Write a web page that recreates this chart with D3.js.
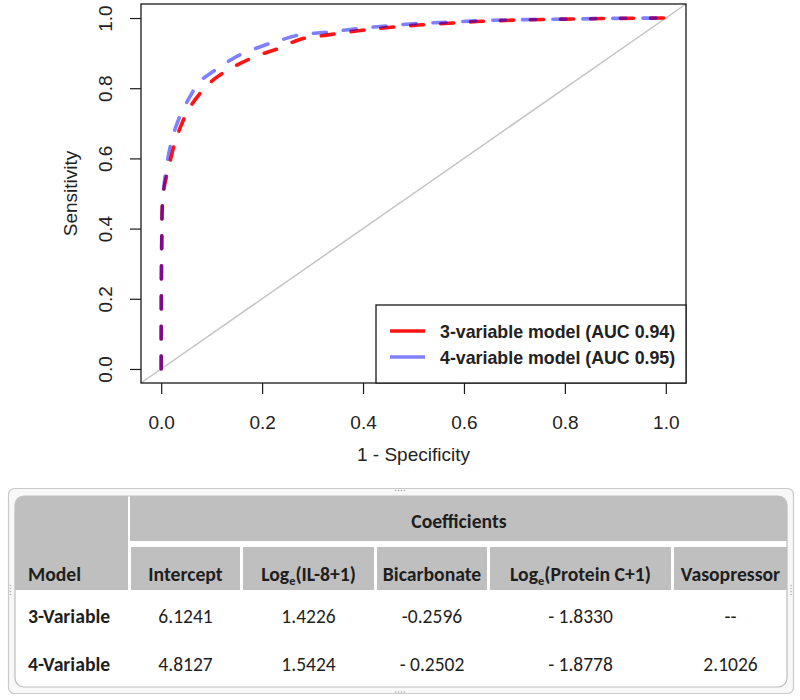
<!DOCTYPE html>
<html>
<head>
<meta charset="utf-8">
<script src="https://cdn.jsdelivr.net/npm/d3@7"></script>
<style>
  html, body { margin: 0; padding: 0; background: #fff; }
  svg { display: block; }
</style>
</head>
<body>
<svg id="chart" width="800" height="700"></svg>
<script>
// ---------------- DATA ----------------
const xTicks = [0, 0.2, 0.4, 0.6, 0.8, 1.0];
const yTicks = [0, 0.2, 0.4, 0.6, 0.8, 1.0];
const xTickLabels = ["0.0", "0.2", "0.4", "0.6", "0.8", "1.0"];
const yTickLabels = ["0.0", "0.2", "0.4", "0.6", "0.8", "1.0"];

// 3-variable model ROC (1 - specificity, sensitivity)
const fpr3 = [0, 0.001, 0.004, 0.0145, 0.031, 0.054, 0.077, 0.107, 0.15, 0.203, 0.232, 0.275, 0.331, 0.391, 0.45, 0.51, 0.569, 0.625, 0.7, 0.8, 0.9, 1.0];
const tpr3 = [0, 0.35, 0.5, 0.572, 0.662, 0.738, 0.785, 0.828, 0.866, 0.899, 0.913, 0.939, 0.952, 0.964, 0.973, 0.98, 0.985, 0.99, 0.994, 0.997, 0.999, 1.0];
// 4-variable model ROC
const fpr4 = [0, 0.001, 0.004, 0.018, 0.034, 0.057, 0.077, 0.107, 0.156, 0.206, 0.232, 0.275, 0.331, 0.391, 0.45, 0.51, 0.569, 0.625, 0.7, 0.8, 0.9, 1.0];
const tpr4 = [0, 0.35, 0.5, 0.634, 0.709, 0.776, 0.819, 0.852, 0.895, 0.923, 0.935, 0.952, 0.96, 0.97, 0.978, 0.985, 0.988, 0.992, 0.995, 0.997, 0.999, 1.0];

const legendLabels = ["3-variable model (AUC 0.94)", "4-variable model (AUC 0.95)"];
const seriesColors = ["rgba(255,0,0,0.92)", "rgba(0,0,255,0.5)"];
const xTitle = "1 - Specificity";
const yTitle = "Sensitivity";

// Table
const tableGroupTitle = "Coefficients";
const modelHeader = "Model";
const coefHeaders = ["Intercept", "Log|e|(IL-8+1)", "Bicarbonate", "Log|e|(Protein C+1)", "Vasopressor"];
const modelLabels = ["3-Variable", "4-Variable"];
const coef3var = ["6.1241", "1.4226", "-0.2596", "- 1.8330", "--"];
const coef4var = ["4.8127", "1.5424", "- 0.2502", "- 1.8778", "2.1026"];

// ---------------- CHART ----------------
const svg = d3.select("#chart");
const P = { left: 141, right: 686, top: 4, bottom: 383 };
const x = d3.scaleLinear().domain([-0.04, 1.04]).range([P.left, P.right]);
const y = d3.scaleLinear().domain([-0.04, 1.04]).range([P.bottom, P.top]);
const axisFont = "'Liberation Sans', Arial, sans-serif";
const ink = "#1a1a1a";

// diagonal reference
svg.append("line")
  .attr("x1", x(-0.04)).attr("y1", y(-0.04))
  .attr("x2", x(1.04)).attr("y2", y(1.04))
  .attr("stroke", "#c4c4c4").attr("stroke-width", 1.5);

// ROC curves
const line = d3.line().x(d => x(d[0])).y(d => y(d[1])).curve(d3.curveCatmullRom.alpha(0.5));
const series = [d3.zip(fpr3, tpr3), d3.zip(fpr4, tpr4)];
svg.selectAll("path.roc").data(series).join("path")
  .attr("class", "roc")
  .attr("d", line)
  .attr("fill", "none")
  .attr("stroke", (d, i) => seriesColors[i])
  .attr("stroke-width", 3.6)
  .attr("stroke-linecap", "round")
  .attr("stroke-dasharray", "13,17");

// axes
const xAxis = d3.axisBottom(x).tickValues(xTicks).tickSize(11).tickFormat((d, i) => xTickLabels[i]);
const gx = svg.append("g").attr("transform", `translate(0,${P.bottom})`).call(xAxis);
gx.select(".domain").remove();
gx.selectAll(".tick line").attr("stroke", ink).attr("stroke-width", 1.2);
gx.selectAll(".tick text").attr("y", 46).attr("dy", null)
  .attr("font-family", axisFont).attr("font-size", 19).attr("fill", "#222");

const yAxis = d3.axisLeft(y).tickValues(yTicks).tickSize(11).tickFormat((d, i) => yTickLabels[i]);
const gy = svg.append("g").attr("transform", `translate(${P.left},0)`).call(yAxis);
gy.select(".domain").remove();
gy.selectAll(".tick line").attr("stroke", ink).attr("stroke-width", 1.2);
gy.selectAll(".tick text")
  .attr("x", null).attr("dy", null)
  .attr("text-anchor", "middle")
  .attr("transform", "translate(-29,0) rotate(-90)")
  .attr("font-family", axisFont).attr("font-size", 19).attr("fill", "#222");

// plot box
svg.append("rect")
  .attr("x", P.left).attr("y", P.top)
  .attr("width", P.right - P.left).attr("height", P.bottom - P.top)
  .attr("fill", "none").attr("stroke", ink).attr("stroke-width", 1.3);

// axis titles
svg.append("text").attr("x", (P.left + P.right) / 2).attr("y", 461)
  .attr("text-anchor", "middle").attr("font-family", axisFont).attr("font-size", 19).attr("fill", "#222")
  .text(xTitle);
svg.append("text")
  .attr("transform", `translate(77,${(P.top + P.bottom) / 2}) rotate(-90)`)
  .attr("text-anchor", "middle").attr("font-family", axisFont).attr("font-size", 19).attr("fill", "#222")
  .text(yTitle);

// legend
const lg = svg.append("g");
lg.append("rect").attr("x", 376).attr("y", 305).attr("width", P.right - 376).attr("height", P.bottom - 305)
  .attr("fill", "#fff").attr("stroke", ink).attr("stroke-width", 1.3);
const li = lg.selectAll("g.item").data(legendLabels).join("g").attr("class", "item")
  .attr("transform", (d, i) => `translate(0,${331 + i * 26})`);
li.append("line").attr("x1", 390).attr("x2", 425).attr("y1", 0).attr("y2", 0)
  .attr("stroke", (d, i) => seriesColors[i]).attr("stroke-width", 3.4);
li.append("text").attr("x", 440).attr("y", 6.5)
  .attr("font-family", axisFont).attr("font-weight", "bold").attr("font-size", 17.8).attr("fill", "#222")
  .text(d => d);

// ---------------- TABLE ----------------
const tFont = "Carlito, 'Liberation Sans Narrow', 'Open Sans', sans-serif";
const T = { left: 15, right: 787, top: 496, bottom: 687 };
const colEdges = [131, 243, 377, 490, 674, 787];
const gap = 3;
const bSize = 19.7, rSize = 19.5;

// outer frame
svg.append("rect").attr("x", 8.5).attr("y", 488.5).attr("width", 785).attr("height", 205)
  .attr("rx", 6).attr("fill", "#f8f8f8").attr("stroke", "#c9c9c9").attr("stroke-width", 1.2);
// inner table
svg.append("defs").append("clipPath").attr("id", "tclip")
  .append("rect").attr("x", T.left).attr("y", T.top).attr("width", T.right - T.left).attr("height", T.bottom - T.top).attr("rx", 9);
svg.append("rect").attr("x", T.left).attr("y", T.top).attr("width", T.right - T.left).attr("height", T.bottom - T.top)
  .attr("rx", 9).attr("fill", "#fff").attr("stroke", "#bdbdbd").attr("stroke-width", 1.2);

const tg = svg.append("g").attr("clip-path", "url(#tclip)");
const hdrFill = "#bfbfbf";
tg.append("rect").attr("x", T.left).attr("y", T.top).attr("width", 128 - T.left).attr("height", 590 - T.top).attr("fill", hdrFill);
tg.append("rect").attr("x", colEdges[0] - 1).attr("y", T.top).attr("width", T.right - colEdges[0] + 1).attr("height", 541 - T.top).attr("fill", hdrFill);
const colIdx = d3.range(coefHeaders.length);
tg.selectAll("rect.sub").data(colIdx).join("rect").attr("class", "sub")
  .attr("x", i => colEdges[i])
  .attr("y", 547).attr("width", i => colEdges[i + 1] - colEdges[i] - (i < colIdx.length - 1 ? gap : 0))
  .attr("height", 590 - 547).attr("fill", hdrFill);

const colCenter = i => (colEdges[i] + colEdges[i + 1] - (i < colIdx.length - 1 ? gap : 0)) / 2;
const tInk = "#1e1e1e";

svg.append("text").attr("x", (colEdges[0] + T.right) / 2).attr("y", 528)
  .attr("text-anchor", "middle").attr("font-family", tFont).attr("font-weight", "bold").attr("font-size", bSize).attr("fill", tInk)
  .text(tableGroupTitle);
svg.append("text").attr("x", 28).attr("y", 581)
  .attr("font-family", tFont).attr("font-weight", "bold").attr("font-size", bSize).attr("fill", tInk)
  .text(modelHeader);

const hdr = svg.selectAll("text.hdr").data(coefHeaders).join("text").attr("class", "hdr")
  .attr("x", (d, i) => colCenter(i)).attr("y", 581)
  .attr("text-anchor", "middle").attr("font-family", tFont).attr("font-weight", "bold").attr("font-size", bSize).attr("fill", tInk);
hdr.each(function (d) {
  const parts = d.split("|");
  const t = d3.select(this);
  if (parts.length === 1) { t.text(d); return; }
  t.append("tspan").text(parts[0]);
  t.append("tspan").attr("font-size", 12.5).attr("dy", 4).text(parts[1]);
  t.append("tspan").attr("dy", -4).text(parts[2]);
});

const rows = [coef3var, coef4var];
const rowY = [623, 671];
svg.selectAll("text.rowlab").data(modelLabels).join("text").attr("class", "rowlab")
  .attr("x", 28).attr("y", (d, i) => rowY[i])
  .attr("font-family", tFont).attr("font-weight", "bold").attr("font-size", bSize).attr("fill", tInk)
  .text(d => d);
rows.forEach((vals, r) => {
  svg.selectAll(`text.val${r}`).data(vals).join("text").attr("class", `val${r}`)
    .attr("x", (d, i) => colCenter(i)).attr("y", rowY[r])
    .attr("text-anchor", "middle").attr("font-family", tFont).attr("font-size", rSize).attr("fill", tInk)
    .text(d => d);
});

// grip marks on frame
const grip = [
  { cx: 400, cy: 490.5, dx: 3, dy: 0 },
  { cx: 400, cy: 692, dx: 3, dy: 0 },
  { cx: 10.5, cy: 590, dx: 0, dy: 3 },
  { cx: 791, cy: 590, dx: 0, dy: 3 }
];
grip.forEach(g => {
  svg.selectAll(null).data([-1.5, -0.5, 0.5, 1.5]).join("circle")
    .attr("cx", k => g.cx + k * g.dx).attr("cy", k => g.cy + k * g.dy)
    .attr("r", 0.8).attr("fill", "#b0b0b0");
});
</script>
</body>
</html>
